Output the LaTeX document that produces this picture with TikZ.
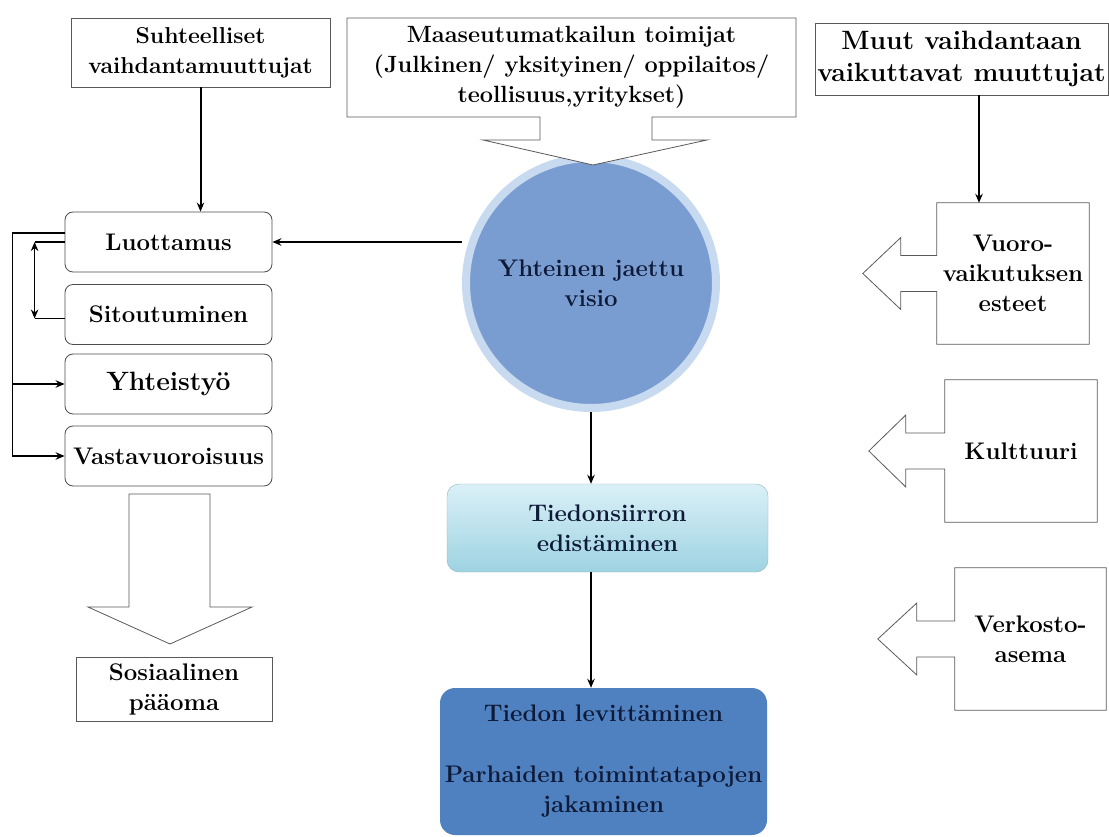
\documentclass[tikz,border=0pt]{standalone}
\usepackage{fontspec}
\usetikzlibrary{arrows.meta,positioning}

\definecolor{visiofill}{RGB}{122,157,209}
\definecolor{visioring}{RGB}{200,218,240}
\definecolor{levfill}{RGB}{79,129,192}
\definecolor{siirtotop}{RGB}{218,240,247}
\definecolor{siirtobot}{RGB}{158,211,226}
\definecolor{navytext}{RGB}{14,26,56}

\tikzset{
  txt/.style={align=center, inner sep=0pt, font=\bfseries\fontsize{24}{30}\selectfont},
  sqbox/.style={txt, draw=black!65, line width=0.8pt},
  rndbox/.style={txt, draw=black!70, line width=0.8pt, rounded corners=8pt, minimum width=207pt, minimum height=60pt},
  shapeline/.style={draw=black!65, line width=0.8pt},
  flow/.style={->, line width=2pt},
  thinflow/.style={line width=1.4pt},
}

\begin{document}
\begin{tikzpicture}[>={Stealth[length=9pt,width=7.5pt]}, x=1pt, y=-1pt]
\useasboundingbox (0,0) rectangle (1109,837);
%%
  \node (suht) at (200.5,52.5) [sqbox, minimum width=259pt, minimum height=69pt, font=\bfseries\fontsize{23}{30}\selectfont] {Suhteelliset\\vaihdantamuuttujat};
  \node (visio) at (591,283) [circle, minimum size=250pt, fill=visiofill, draw=visioring, line width=8pt, txt, text=navytext] {Yhteinen jaettu\\visio};
  \draw [shapeline, fill=white] (347,18) -- (796,18) -- (796,117) -- (652,117) -- (652,140) -- (707,140) -- (593,165) -- (483,140) -- (540,140) -- (540,117) -- (347,117) -- cycle;
  \node (maas) at (571.5,67) [txt, font=\bfseries\fontsize{23.5}{30}\selectfont] {Maaseutumatkailun toimijat\\(Julkinen/ yksityinen/ oppilaitos/\\teollisuus,yritykset)};
  \node (muut) at (961.5,59) [sqbox, minimum width=293pt, minimum height=72pt, font=\bfseries\fontsize{26.5}{32}\selectfont] {Muut vaihdantaan\\vaikuttavat muuttujat};
%
  \node (luot) at (168.5,242) [rndbox] {Luottamus};
  \node (sit) at (168.5,314.5) [rndbox] {Sitoutuminen};
  \node (yht) at (168.5,384) [rndbox, font=\bfseries\fontsize{26.5}{30}\selectfont] {Yhteistyö};
  \node (vast) at (168.5,456) [rndbox] {Vastavuoroisuus};
  \node (sos) at (174,689) [sqbox, minimum width=196pt, minimum height=64pt] {Sosiaalinen\\pääoma};
  \draw [shapeline] (129,494) -- (210,494) -- (210,607) -- (252,607) -- (170,644) -- (88,607) -- (129,607) -- cycle;
%
  \node (tieds) at (607.5,528) [txt, text=navytext, rounded corners=12pt, minimum width=321pt, minimum height=88pt, top color=siirtotop, bottom color=siirtobot, draw=siirtobot!60!gray] {Tiedonsiirron\\edistäminen};
  \node (tiedon) at (603.5,761.5) [txt, text=navytext, rounded corners=15pt, minimum width=327pt, minimum height=147pt, fill=levfill] {Tiedon levittäminen\\[31pt]Parhaiden toimintatapojen\\jakaminen};
%
  \node (vuoro) at (1013,273.5) [txt, minimum width=152pt, minimum height=141pt] {Vuoro-\\vaikutuksen\\esteet};
  \node (kult) at (1021,451) [txt, minimum width=152pt, minimum height=142pt] {Kulttuuri};
  \node (verk) at (1030.5,639) [txt, minimum width=151pt, minimum height=142pt] {Verkosto-\\asema};
  \draw [shapeline] (vuoro.north west) -- (vuoro.north east) -- (vuoro.south east) -- (vuoro.south west) -- ([yshift=-18pt]vuoro.west) -- ++(-36,0) -- ++(0,18) -- ++(-38,-36) -- ++(38,-36) -- ++(0,18) -- ++(36,0) -- cycle;
  \draw [shapeline] (kult.north west) -- (kult.north east) -- (kult.south east) -- (kult.south west) -- ([yshift=-18pt]kult.west) -- ++(-39,0) -- ++(0,18) -- ++(-37,-36) -- ++(37,-36) -- ++(0,18) -- ++(39,0) -- cycle;
  \draw [shapeline] (verk.north west) -- (verk.north east) -- (verk.south east) -- (verk.south west) -- ([yshift=-18pt]verk.west) -- ++(-38,0) -- ++(0,18) -- ++(-39,-36) -- ++(39,-36) -- ++(0,18) -- ++(38,0) -- cycle;
%
  \draw [flow] (suht) -- (suht |- luot.north);
  \draw [flow] (luot.east -| visio.west) -- (luot);
  \draw [flow] (visio) -- (visio |- tieds.north);
  \draw [flow] (tieds.south -| visio) -- (tiedon.north -| visio);
  \path ([xshift=17.5pt]muut.south) coordinate (mu);
  \draw [flow] (mu) -- (mu |- vuoro.north);
  \draw [flow, thinflow] ([yshift=9pt]luot.west) -- ++(-52,0) coordinate (br) |- (vast.west);
  \draw [flow, thinflow] (br |- yht.west) -- (yht.west);
  \draw [thinflow] (luot.west) -- ++(-30,0) coordinate (lu);
  \draw [thinflow] ([yshift=-4pt]sit.west) -- ++(-30,0) coordinate (si);
  \draw [<->, line width=1.6pt] (lu) -- (si);
%
\end{tikzpicture}
\end{document}
